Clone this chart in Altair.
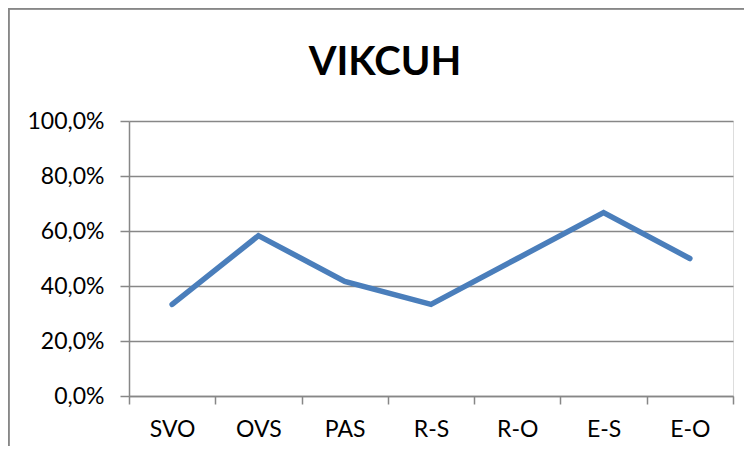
import altair as alt
import pandas as pd

categories = ["SVO", "OVS", "PAS", "R-S", "R-O", "E-S", "E-O"]
values = [0.333, 0.583, 0.417, 0.333, 0.50, 0.667, 0.50]
y_ticks = [0.0, 0.2, 0.4, 0.6, 0.8, 1.0]
title_text = "VIKCUH"

df = pd.DataFrame({"cat": categories, "val": values})

FONT = "Lato"
GRID = "#878787"

x_enc = alt.X(
    "cat:N",
    sort=categories,
    scale=alt.Scale(type="band", paddingInner=0, paddingOuter=0),
    axis=alt.Axis(
        title=None,
        labelAngle=0,
        labelFont=FONT,
        labelFontSize=23,
        labelColor="#000000",
        labelPadding=14,
        tickBand="extent",
        tickSize=8,
        tickColor=GRID,
        tickWidth=1.5,
        domainColor=GRID,
        domainWidth=1.5,
        grid=False,
    ),
)

y_enc = alt.Y(
    "val:Q",
    scale=alt.Scale(domain=[0, 1], nice=False),
    axis=alt.Axis(
        title=None,
        values=y_ticks,
        labelExpr="replace(format(datum.value, '.1%'), '.', ',')",
        labelFont=FONT,
        labelFontSize=23,
        labelColor="#000000",
        labelPadding=16,
        tickSize=9,
        tickColor=GRID,
        tickWidth=1.5,
        domainColor=GRID,
        domainWidth=1.5,
        grid=True,
        gridColor=GRID,
        gridWidth=1.5,
    ),
)

line = alt.Chart(df).mark_line(
    color="#4a7ebb", strokeWidth=5.5, strokeCap="round", strokeJoin="miter"
).encode(x=x_enc, y=y_enc)

frame = alt.Chart(df).mark_rect(
    fill=None, stroke=GRID, strokeWidth=1.5, clip=False
).encode(
    x=alt.value(-120.5), x2=alt.value(800), y=alt.value(-112.5), y2=alt.value(500)
)

title = alt.Chart(pd.DataFrame({"t": [title_text]})).mark_text(
    font=FONT, fontSize=40, fontWeight="bold", color="#000000",
    align="center", baseline="alphabetic",
).encode(text="t:N", x=alt.value(256), y=alt.value(-46))

chart = (
    alt.layer(frame, line, title)
    .properties(
        width=604,
        height=275,
        padding={"left": 121, "top": 113, "right": 11, "bottom": 50},
        autosize=alt.AutoSizeParams(type="none"),
    )
    .configure_view(stroke=None)
    .configure(background="#ffffff")
)

chart.save("out.html", embed_options={"renderer": "svg", "actions": False})
